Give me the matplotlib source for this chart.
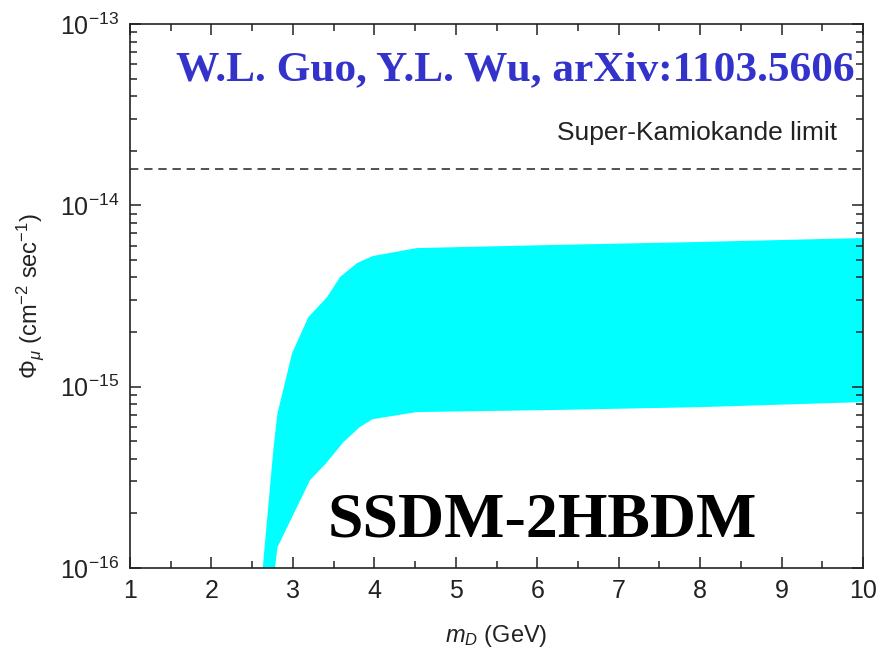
import matplotlib
matplotlib.use('Agg')
from matplotlib import pyplot as plt
from matplotlib.ticker import FixedLocator, LogLocator, MultipleLocator, NullFormatter

plt.rcParams['font.family'] = ['Liberation Sans', 'DejaVu Sans']
plt.rcParams['mathtext.fontset'] = 'custom'
plt.rcParams['mathtext.rm'] = 'Liberation Sans'
plt.rcParams['mathtext.it'] = 'Liberation Sans:italic'

# band edges
upper_x = [2.63, 2.76, 2.81, 2.99, 3.19, 3.42, 3.58, 3.79, 3.98, 4.52, 6.16, 8.0, 10.0]
upper_y = [1.0e-16, 4.5e-16, 7.1e-16, 1.53e-15, 2.42e-15, 3.12e-15, 4.03e-15,
           4.81e-15, 5.25e-15, 5.81e-15, 6.04e-15, 6.28e-15, 6.6e-15]
lower_x = [2.78, 2.81, 3.21, 3.41, 3.62, 3.82, 3.98, 4.52, 6.16, 8.0, 10.0]
lower_y = [1.0e-16, 1.3e-16, 3.05e-16, 3.79e-16, 4.94e-16, 5.98e-16,
           6.62e-16, 7.24e-16, 7.43e-16, 7.71e-16, 8.22e-16]
sk_limit = 1.58e-14
y_ticks = [1e-16, 1e-15, 1e-14, 1e-13]

fig = plt.figure(figsize=(8.91, 6.55), dpi=100)
ax = fig.add_axes([0.1459, 0.1328, 0.8227, 0.8306])

poly_x = upper_x + lower_x[::-1]
poly_y = upper_y + lower_y[::-1]
ax.fill(poly_x, poly_y, color='#00FFFF', lw=0)

ax.axhline(sk_limit, color='#333333', lw=1.2, ls=(0, (5, 3.5)))

ax.set_yscale('log')
ax.set_xlim(1, 10)
ax.set_ylim(1e-16, 1e-13)
ax.xaxis.set_major_locator(MultipleLocator(1))
ax.xaxis.set_minor_locator(MultipleLocator(0.5))
ax.yaxis.set_major_locator(FixedLocator(y_ticks))
ax.yaxis.set_minor_locator(LogLocator(base=10, subs=range(2, 10), numticks=20))
ax.yaxis.set_minor_formatter(NullFormatter())

ax.tick_params(which='both', direction='in', top=True, right=True,
               labelsize=18, colors='#222222', width=1.1)
ax.tick_params(which='major', length=8, pad=8)
ax.tick_params(which='minor', length=5)
for s in ax.spines.values():
    s.set_linewidth(1.2)
    s.set_color('#222222')

ax.set_xlabel(r'$m_{D}$ (GeV)', fontsize=17, color='#222222', labelpad=14)
ax.set_ylabel(r'$\Phi_{\mu}$ (cm$^{-2}$ sec$^{-1}$)', fontsize=17, color='#222222',
              labelpad=10)

ax.text(0.989, 0.915, 'W.L. Guo, Y.L. Wu, arXiv:1103.5606', transform=ax.transAxes,
        ha='right', va='center', fontsize=31.2, fontweight='bold',
        family='Liberation Serif', color='#3333CC')
ax.text(0.964, 0.80, 'Super-Kamiokande limit', transform=ax.transAxes,
        ha='right', va='center', fontsize=19, color='#222222')
ax.text(0.563, 0.085, 'SSDM-2HBDM', transform=ax.transAxes,
        ha='center', va='center', fontsize=46, fontweight='bold',
        family='Liberation Serif', color='black')

plt.savefig('out.png', dpi=100)
